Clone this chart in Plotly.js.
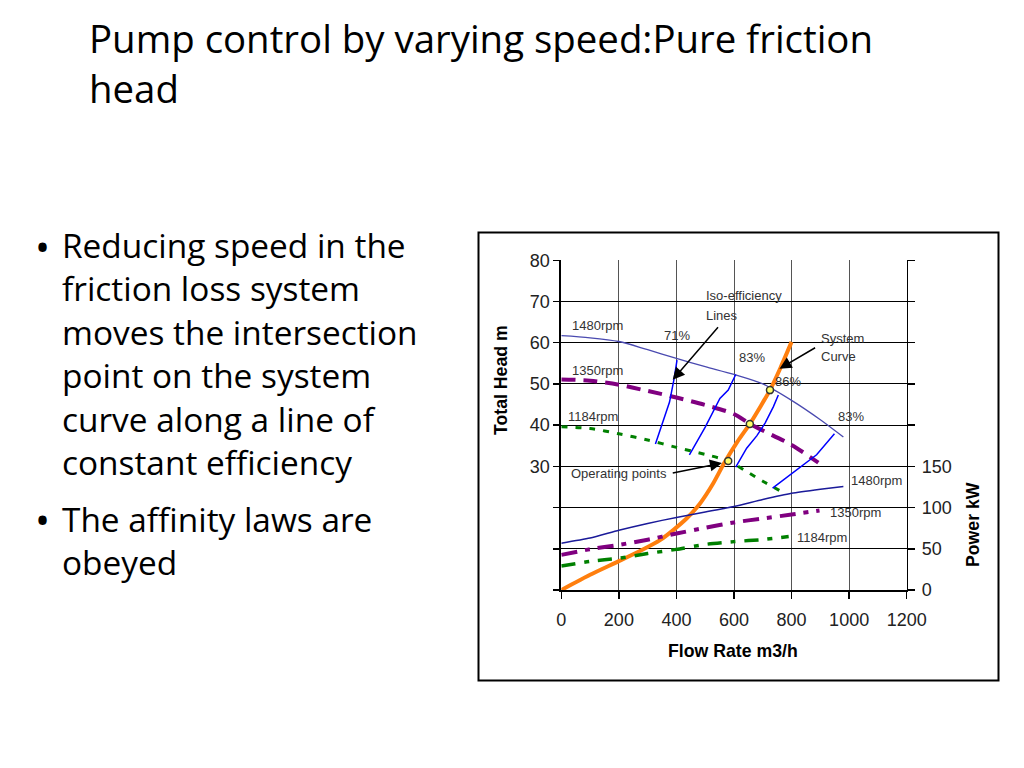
<!DOCTYPE html>
<html>
<head>
<meta charset="utf-8">
<script src="https://cdn.plot.ly/plotly-3.0.1.min.js"></script>
<style>
html,body{margin:0;padding:0;background:#fff;}
#chart{width:1024px;height:768px;}
</style>
</head>
<body>
<div id="chart"></div>
<script>
// ---------- Data ----------
// Pump head curves (Total Head m vs Flow Rate m3/h)
const flow1480Head = [0, 100, 200, 300, 400, 500, 600, 700, 800, 900, 980];
const head1480     = [61.7, 61.2, 60.3, 58.3, 56.2, 54.2, 52.3, 50.0, 46.0, 41.3, 37.1];
const flow1350Head = [0, 100, 200, 300, 400, 500, 600, 655, 700, 800, 893];
const head1350     = [51.1, 50.8, 49.8, 48.3, 46.7, 44.9, 42.7, 40.3, 38.7, 35.2, 30.9];
const flow1184Head = [0, 100, 200, 300, 400, 500, 580, 640, 700, 775];
const head1184     = [39.6, 39.2, 37.9, 36.4, 34.6, 32.9, 31.3, 28.9, 26.4, 23.5];

// System curve (pure friction)
const systemFlow = [0, 100, 200, 280, 343, 390, 436, 482, 528, 566, 612, 655, 690, 725, 762, 800];
const systemHead = [0, 3.7, 7.0, 9.7, 12.1, 14.6, 17.4, 21.0, 25.9, 30.8, 36.0, 40.3, 44.3, 48.5, 54.0, 60.2];

// Operating points
const opFlow = [580, 655, 725];
const opHead = [31.3, 40.3, 48.5];

// Iso-efficiency lines
const iso71Flow  = [327, 376, 392, 402];
const iso71Head  = [35.4, 45.6, 51.3, 55.8];
const iso83aFlow = [445, 500, 551, 580, 606];
const iso83aHead = [32.8, 39.5, 46.5, 48.5, 52.3];
const iso86Flow  = [606, 644, 679, 708, 737, 754];
const iso86Head  = [29.8, 34.4, 37.4, 40.5, 44.5, 47.3];
const iso83bFlow = [734, 818, 887, 949];
const iso83bHead = [24.7, 29.1, 32.8, 37.9];

// Power curves (Power kW vs Flow Rate m3/h)
const flow1480Pow = [0, 100, 200, 300, 400, 500, 600, 700, 800, 900, 980];
const pow1480     = [56.8, 63.0, 72.5, 80.8, 88.0, 94.6, 101.3, 109.8, 117.4, 122.3, 125.7];
const flow1350Pow = [0, 100, 200, 300, 400, 500, 600, 700, 800, 897];
const pow1350     = [42.6, 49.5, 54.7, 61.0, 68.5, 75.5, 82.0, 86.8, 91.6, 96.5];
const flow1184Pow = [0, 100, 200, 300, 400, 500, 600, 700, 790];
const pow1184     = [29.2, 34.7, 38.5, 44.3, 49.3, 55.3, 58.7, 61.2, 64.8];

// Axis ticks
const xTicks = [0, 200, 400, 600, 800, 1000, 1200];
const headTicks = [0, 10, 20, 30, 40, 50, 60, 70, 80];
const headTickText = ['', '', '', '30', '40', '50', '60', '70', '80'];
const powTicks = [0, 50, 100, 150, 200, 250, 300, 350, 400];
const powTickText = ['0', '50', '100', '150', '', '', '', '', ''];

// Slide text
const titleLines = ['Pump control by varying speed:Pure friction', 'head'];
const bullet1 = ['Reducing speed in the', 'friction loss system', 'moves the intersection',
                 'point on the system', 'curve along a line of', 'constant efficiency'];
const bullet2 = ['The affinity laws are', 'obeyed'];

// ---------- Layout helpers ----------
const W = 1024, H = 768;
const px = v => v / W;
const py = v => 1 - v / H;
const ARIAL = 'Liberation Sans, Arial, sans-serif';
const SLIDE = 'Open Sans, Carlito, sans-serif';
const lblFont = {family: ARIAL, size: 13, color: '#333'};

const traces = [
  {x: flow1480Head, y: head1480, mode: 'lines', line: {color: '#4a4ab0', width: 1.3, shape: 'spline', smoothing: 0.8}, name: '1480rpm head'},
  {x: flow1350Head, y: head1350, mode: 'lines', line: {color: '#800080', width: 4, dash: '14px,8px', shape: 'spline', smoothing: 0.8}, name: '1350rpm head'},
  {x: flow1184Head, y: head1184, mode: 'lines', line: {color: '#008000', width: 3, dash: '6px,8px', shape: 'spline', smoothing: 0.8}, name: '1184rpm head'},
  {x: iso71Flow, y: iso71Head, mode: 'lines', line: {color: '#0000ff', width: 1.5}, name: '71%'},
  {x: iso83aFlow, y: iso83aHead, mode: 'lines', line: {color: '#0000ff', width: 1.5}, name: '83%'},
  {x: iso86Flow, y: iso86Head, mode: 'lines', line: {color: '#0000ff', width: 1.5}, name: '86%'},
  {x: iso83bFlow, y: iso83bHead, mode: 'lines', line: {color: '#0000ff', width: 1.5}, name: '83% b'},
  {x: flow1480Pow, y: pow1480, yaxis: 'y2', mode: 'lines', line: {color: '#1a1a99', width: 1.5, shape: 'spline', smoothing: 0.6}, name: '1480rpm power'},
  {x: flow1350Pow, y: pow1350, yaxis: 'y2', mode: 'lines', line: {color: '#800080', width: 4, dash: '16px,8px,5px,8px', shape: 'spline', smoothing: 0.6}, name: '1350rpm power'},
  {x: flow1184Pow, y: pow1184, yaxis: 'y2', mode: 'lines', line: {color: '#008000', width: 3.5, dash: '14px,9px,5px,9px', shape: 'spline', smoothing: 0.6}, name: '1184rpm power'},
  {x: systemFlow, y: systemHead, mode: 'lines', line: {color: '#ff7f0e', width: 4, shape: 'spline', smoothing: 0.7}, name: 'System curve'},
  {x: opFlow, y: opHead, mode: 'markers', marker: {size: 7, color: '#ffff66', line: {color: '#333', width: 1.5}}, name: 'Operating points'}
];

const annotations = [];
const para = (text, x, y, size, anchor) => annotations.push({xref: 'paper', yref: 'paper', x: px(x), y: py(y),
  xanchor: anchor || 'left', yanchor: 'middle', align: 'left', text, showarrow: false,
  font: {family: SLIDE, size, color: '#000'}});
// Title (two lines, one text block)
para(titleLines.join('<br>'), 87, 63, 38.4);
// Bullets (one text block per bullet)
para(bullet1.join('<br>'), 60, 353.5, 33.4);
para(bullet2.join('<br>'), 60, 540.5, 33.4);
[246, 519].forEach(yy => para('•', 42, yy, 40, 'center'));

// Axis titles
const axTitle = (text, x, y, angle) => annotations.push({xref: 'paper', yref: 'paper', x: px(x), y: py(y),
  xanchor: 'center', yanchor: 'middle', textangle: angle, text: '<b>' + text + '</b>', showarrow: false,
  font: {family: ARIAL, size: 17.7, color: '#000'}});
axTitle('Total Head m', 501, 380, -90);
axTitle('Power kW', 973, 525, -90);
axTitle('Flow Rate m3/h', 733, 651, 0);

// Curve labels
const lbl = (x, y, t, anchor, yref) => annotations.push({x, y, xref: 'x', yref: yref || 'y', text: t, showarrow: false,
  xanchor: anchor || 'center', yanchor: 'middle', font: lblFont});
lbl(30, 64.1, '1480rpm', 'left');
lbl(30, 53.2, '1350rpm', 'left');
lbl(16, 42.2, '1184rpm', 'left');
lbl(401, 61.7, '71%');
lbl(662, 56.3, '83%');
lbl(789, 50.6, '86%');
lbl(1005, 42.0, '83%');
lbl(497, 71.5, 'Iso-efficiency', 'left');
lbl(497, 66.5, 'Lines', 'left');
lbl(897, 61.0, 'System', 'left');
lbl(897, 56.7, 'Curve', 'left');
lbl(25, 28.3, 'Operating points', 'left');
lbl(1000, 133, '1480rpm', 'left', 'y2');
lbl(928, 94.5, '1350rpm', 'left', 'y2');
lbl(812, 64, '1184rpm', 'left', 'y2');

// Arrows
const arrow = (x, y, ax, ay) => annotations.push({x, y, ax, ay, xref: 'x', yref: 'y', axref: 'x', ayref: 'y',
  text: '', showarrow: true, arrowhead: 2, arrowsize: 1.6, arrowwidth: 1.5, arrowcolor: '#000'});
arrow(387, 51.0, 549, 64.1);
arrow(758, 53.7, 887, 59.0);
arrow(558, 30.8, 382, 28.3);

const layout = {
  width: W, height: H,
  margin: {l: 0, r: 0, t: 0, b: 0},
  paper_bgcolor: '#fff', plot_bgcolor: '#fff',
  showlegend: false,
  xaxis: {
    domain: [px(561.3), px(906.7)], range: [0, 1200], tickvals: xTicks,
    ticks: 'outside', ticklen: 7, tickcolor: '#000', tickwidth: 1.5, ticklabelstandoff: 5,
    showline: true, linecolor: '#000', linewidth: 2,
    showgrid: true, gridcolor: '#555', gridwidth: 1, zeroline: false,
    tickfont: {family: ARIAL, size: 18, color: '#222'}, fixedrange: true
  },
  yaxis: {
    domain: [py(590), py(260.3)], range: [0, 80], tickvals: headTicks, ticktext: headTickText,
    ticks: 'outside', ticklen: 6, tickcolor: '#000', tickwidth: 1.5,
    showline: true, linecolor: '#000', linewidth: 2,
    showgrid: true, gridcolor: '#000', gridwidth: 1, zeroline: false,
    tickfont: {family: ARIAL, size: 18, color: '#222'}, fixedrange: true
  },
  yaxis2: {
    overlaying: 'y', side: 'right', range: [0, 400], tickvals: powTicks, ticktext: powTickText,
    ticks: 'outside', ticklen: 7, tickcolor: '#000', tickwidth: 1.5, ticklabelstandoff: 3,
    showline: true, linecolor: '#000', linewidth: 1.5,
    showgrid: false, zeroline: false,
    tickfont: {family: ARIAL, size: 18, color: '#222'}, fixedrange: true
  },
  shapes: [{type: 'rect', xref: 'paper', yref: 'paper', x0: px(478.5), x1: px(998.5), y0: py(680.5), y1: py(232.5),
    line: {color: '#000', width: 2}}],
  annotations
};

Plotly.newPlot('chart', traces, layout, {staticPlot: true, displayModeBar: false});
</script>
</body>
</html>
